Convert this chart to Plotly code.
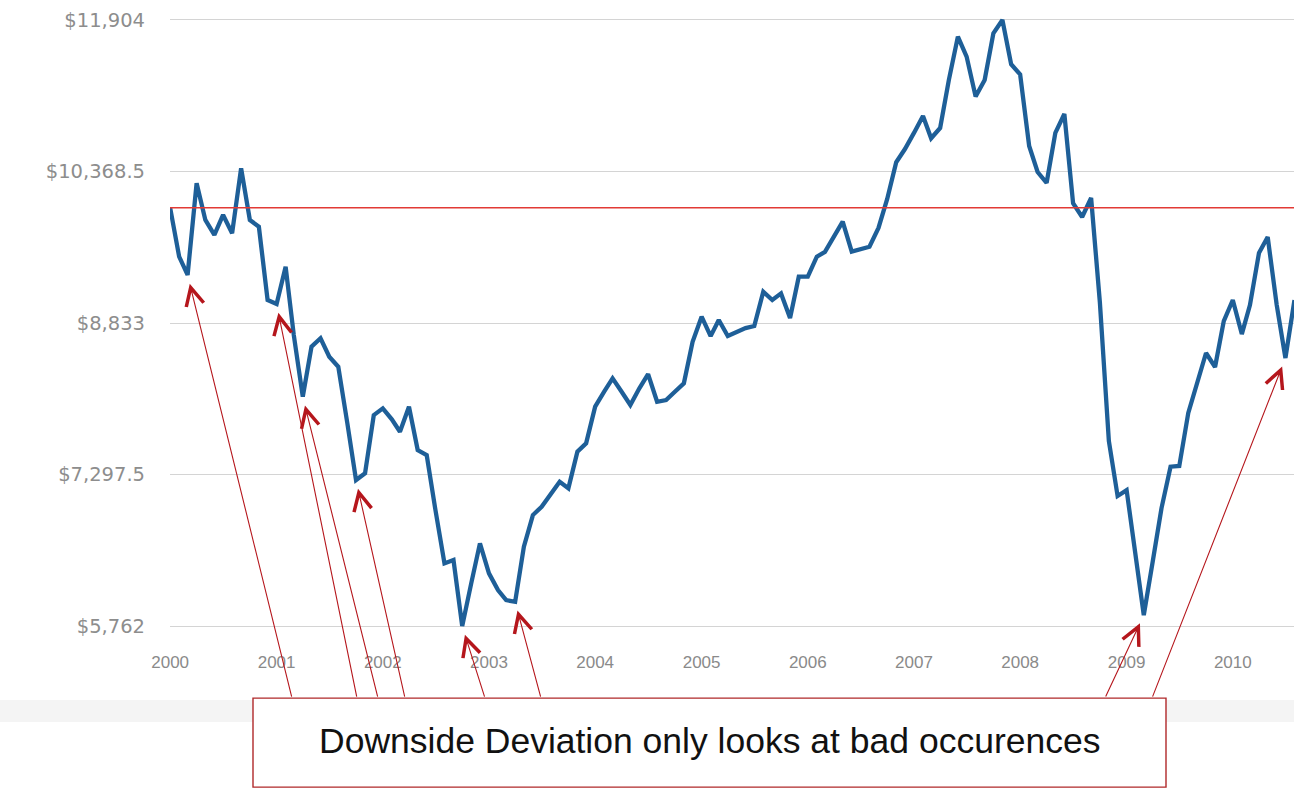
import pandas as pd
import plotly.graph_objects as go

# Monthly value of a $10,000 investment, one point per month from January 2000
start_month = "2000-01-01"
portfolio_values = [
    10000, 9505, 9320, 10249, 9877, 9725, 9928, 9742, 10401, 9877, 9809, 9066,
    9025, 9403, 8711, 8086, 8593, 8678, 8491, 8390, 7820, 7242, 7310, 7900,
    7968, 7857, 7731, 7985, 7546, 7495, 6938, 6397, 6431, 5762, 6195, 6600,
    6296, 6127, 6025, 6008, 6566, 6887, 6971, 7090, 7224, 7158, 7529, 7614,
    7985, 8137, 8272, 8137, 8002, 8171, 8315, 8035, 8052, 8137, 8222, 8643,
    8897, 8700, 8863, 8701, 8742, 8782, 8802, 9150, 9066, 9133, 8883, 9302,
    9302, 9505, 9553, 9705, 9860, 9556, 9583, 9606, 9796, 10090, 10462, 10596,
    10759, 10931, 10705, 10809, 11296, 11735, 11532, 11127, 11296, 11769, 11904, 11455,
    11352, 10627, 10363, 10252, 10759, 10951, 10046, 9907, 10100, 9046, 7637, 7080,
    7140, 6502, 5873, 6421, 6958, 7377, 7384, 7921, 8225, 8529, 8387, 8853,
    9066, 8721, 9015, 9542, 9704, 9015, 8478, 9066,
]
baseline_value = 10000

y_tick_values = [5762, 7297.5, 8833, 10368.5, 11904]
y_tick_labels = ["$5,762", "$7,297.5", "$8,833", "$10,368.5", "$11,904"]
year_ticks = [str(y) for y in range(2000, 2011)]

# months (index into the series) that the arrows point at
bad_months = [2, 12, 15, 21, 33, 39, 110, 126]
note_text = "Downside Deviation only looks at bad occurences"

months = pd.date_range(start_month, periods=len(portfolio_values), freq="MS")

# ---- page geometry (pixels) ----
W, H = 1294, 789
left = 170
plot_w = W - left
px_per_day = 106.25 / 365.25
x_start = pd.Timestamp("1999-12-31 12:00")
x_end = x_start + pd.Timedelta(days=plot_w / px_per_day)

y_pad = 60
y_lo, y_hi = y_tick_values[0] - y_pad, y_tick_values[-1] + y_pad
px_per_unit = 606 / (y_tick_values[-1] - y_tick_values[0])
plot_h = (y_hi - y_lo) * px_per_unit
top = 20 - y_pad * px_per_unit
bottom = H - top - plot_h
plot_bottom_px = top + plot_h


def px_x_to_date(px):
    return x_start + pd.Timedelta(days=(px - left) / px_per_day)


def px_y_to_value(py):
    return y_lo + (plot_bottom_px - py) / px_per_unit


def paper_x(px):
    return (px - left) / plot_w


def paper_y(py):
    return (plot_bottom_px - py) / plot_h


fig = go.Figure()

fig.add_trace(go.Scatter(
    x=months, y=portfolio_values, mode="lines",
    line=dict(color="#1e5f98", width=4.3, shape="linear"),
    hoverinfo="skip", showlegend=False,
))

# starting-value reference line
fig.add_shape(type="line", xref="paper", yref="y", x0=0, x1=1,
              y0=baseline_value, y1=baseline_value,
              line=dict(color="#e23a35", width=1.5), layer="above")

# faint grey band behind the note area
fig.add_shape(type="rect", xref="paper", yref="paper",
              x0=paper_x(0), x1=paper_x(W),
              y0=paper_y(722), y1=paper_y(700),
              line=dict(width=0), fillcolor="#f4f4f4", layer="below")

# note box under the axis
box_left, box_right, box_top, box_bottom = 253, 1166, 698, 787
fig.add_shape(type="rect", xref="paper", yref="paper",
              x0=paper_x(box_left), x1=paper_x(box_right),
              y0=paper_y(box_bottom), y1=paper_y(box_top),
              line=dict(color="#b0282a", width=1.4), fillcolor="white",
              layer="above")
fig.add_annotation(xref="paper", yref="paper",
                   x=paper_x((box_left + box_right) / 2), y=paper_y(741),
                   text=note_text, showarrow=False,
                   font=dict(family="Liberation Sans, Arial", size=35.5, color="#111111"),
                   xanchor="center", yanchor="middle")

# arrows from the top of the note box to each bad month
arrow_tails_px = [292, 357, 378, 405, 485, 541, 1105, 1152]
for idx, tail_x in zip(bad_months, arrow_tails_px):
    fig.add_annotation(
        x=months[idx], y=portfolio_values[idx], xref="x", yref="y",
        ax=px_x_to_date(tail_x), ay=px_y_to_value(box_top),
        axref="x", ayref="y", text="", showarrow=True,
        arrowhead=5, arrowsize=3.2, arrowwidth=1.1, arrowcolor="#b5161c",
        standoff=9,
    )

fig.update_layout(
    width=W, height=H,
    margin=dict(l=left, r=0, t=top, b=bottom, pad=0),
    paper_bgcolor="white", plot_bgcolor="white",
    showlegend=False,
    xaxis=dict(
        type="date", range=[x_start, x_end],
        tickvals=[pd.Timestamp(f"{y}-01-01") for y in year_ticks],
        ticktext=year_ticks,
        tickfont=dict(family="Liberation Sans, Arial", size=17, color="#8a8a8a"),
        showgrid=False, zeroline=False, showline=False, ticks="",
        ticklabelstandoff=18,
    ),
    yaxis=dict(
        range=[y_lo, y_hi], tickvals=y_tick_values, ticktext=y_tick_labels,
        tickfont=dict(family="DejaVu Sans", size=19.5, color="#8d8d8d"),
        showgrid=True, gridcolor="#d4d4d4", gridwidth=1.2,
        zeroline=False, showline=False, ticks="",
        ticklabelstandoff=24,
    ),
)

fig.write_html("out.html")
